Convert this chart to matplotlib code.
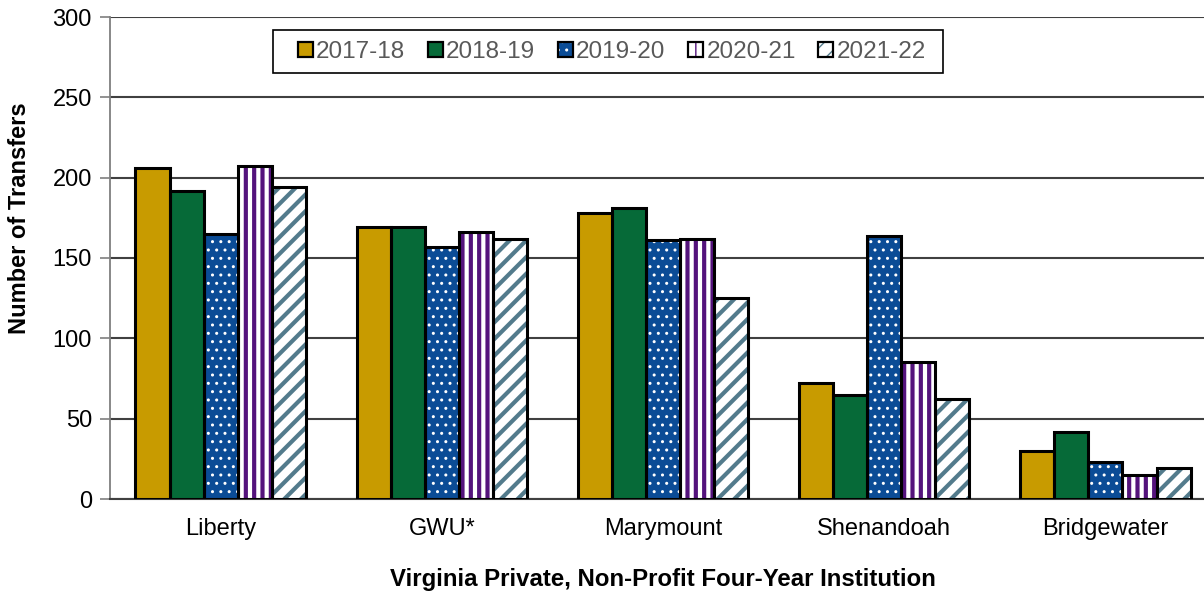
import numpy as np
import matplotlib
matplotlib.use("Agg")
import matplotlib.pyplot as plt
from matplotlib.patches import Patch, Rectangle
from matplotlib.legend_handler import HandlerTuple

# data
institutions = ["Liberty", "GWU*", "Marymount", "Shenandoah", "Bridgewater"]
years = ["2017-18", "2018-19", "2019-20", "2020-21", "2021-22"]
v_2017 = [206, 169, 178, 72, 30]
v_2018 = [192, 169, 181, 65, 42]
v_2019 = [165, 157, 161, 164, 23]
v_2020 = [207, 166, 162, 85, 15]
v_2021 = [194, 162, 125, 62, 19]
series = [v_2017, v_2018, v_2019, v_2020, v_2021]

# (face, hatch, hatch colour, hatch linewidth)
styles = [
    ("#C89B00", None, None, 1.0),
    ("#066A38", None, None, 1.0),
    ("#0B4C96", "..", "white", 1.0),
    ("white", "||", "#54137C", 3.0),
    ("white", "//", "#537B8C", 3.0),
]

plt.rcParams["font.family"] = ["Liberation Sans", "DejaVu Sans"]

W, H = 1204, 597
fig = plt.figure(figsize=(W / 100, H / 100), dpi=100)
ax = fig.add_axes([110 / W, 98 / H, 1 - 110 / W + 0.01, 482 / H])

x = np.arange(len(institutions))
width = 0.154
handles = []
for i, (vals, (fc, hatch, hc, hlw)) in enumerate(zip(series, styles)):
    pos = x + (i - 2) * width
    with plt.rc_context({"hatch.linewidth": hlw}):
        if hatch:
            ax.bar(pos, vals, width, color=fc, hatch=hatch,
                   edgecolor=hc, linewidth=0, zorder=3)
            fill_h = Patch(facecolor=fc, hatch=hatch, edgecolor=hc, linewidth=0)
        else:
            ax.bar(pos, vals, width, color=fc, linewidth=0, zorder=3)
            fill_h = Patch(facecolor=fc, linewidth=0)
    ax.bar(pos, vals, width, fill=False, edgecolor="black", linewidth=2.2, zorder=4)
    outline_h = Patch(fill=False, edgecolor="black", linewidth=1.6)
    handles.append((fill_h, outline_h))

ax.set_xlim(-0.5, 4.5)
ax.set_ylim(0, 300)
ax.set_yticks(np.arange(0, 301, 50))
ax.set_xticks(x)
ax.set_xticklabels(institutions, fontsize=17)
ax.tick_params(axis="y", labelsize=17, length=7, width=1.2, color="#7f7f7f", pad=6)
ax.tick_params(axis="x", length=0, pad=14)
ax.grid(axis="y", color="#404040", linewidth=1.5, zorder=0)
ax.set_axisbelow(True)
for s in ["top", "right"]:
    ax.spines[s].set_visible(False)
ax.spines["left"].set_color("#7f7f7f")
ax.spines["left"].set_linewidth(1.3)
ax.spines["bottom"].set_color("#404040")
ax.spines["bottom"].set_linewidth(1.5)

fig.text(20 / W, 1 - 218 / H, "Number of Transfers", rotation=90,
         ha="center", va="center", fontsize=17, fontweight="bold")
ax.set_xlabel("Virginia Private, Non-Profit Four-Year Institution", fontsize=17.3,
              fontweight="bold", labelpad=20)

# legend frame drawn separately so the inner padding matches
ax.add_patch(Rectangle((273 / W, 1 - 73 / H), 670 / W, 43 / H,
                       transform=fig.transFigure, facecolor="white",
                       edgecolor="black", linewidth=1.2, zorder=5, clip_on=False))
leg = ax.legend(handles, years, ncol=5, loc="center left",
                handler_map={tuple: HandlerTuple(ndivide=1, pad=0)},
                bbox_to_anchor=(298 / W, 1 - 52 / H), bbox_transform=fig.transFigure,
                borderaxespad=0, borderpad=0, fontsize=17.5, frameon=False,
                handlelength=0.6, handleheight=0.6, handletextpad=0.15,
                columnspacing=0.93, labelcolor="#595959")
leg.set_zorder(6)

plt.savefig("out.png", dpi=100)
